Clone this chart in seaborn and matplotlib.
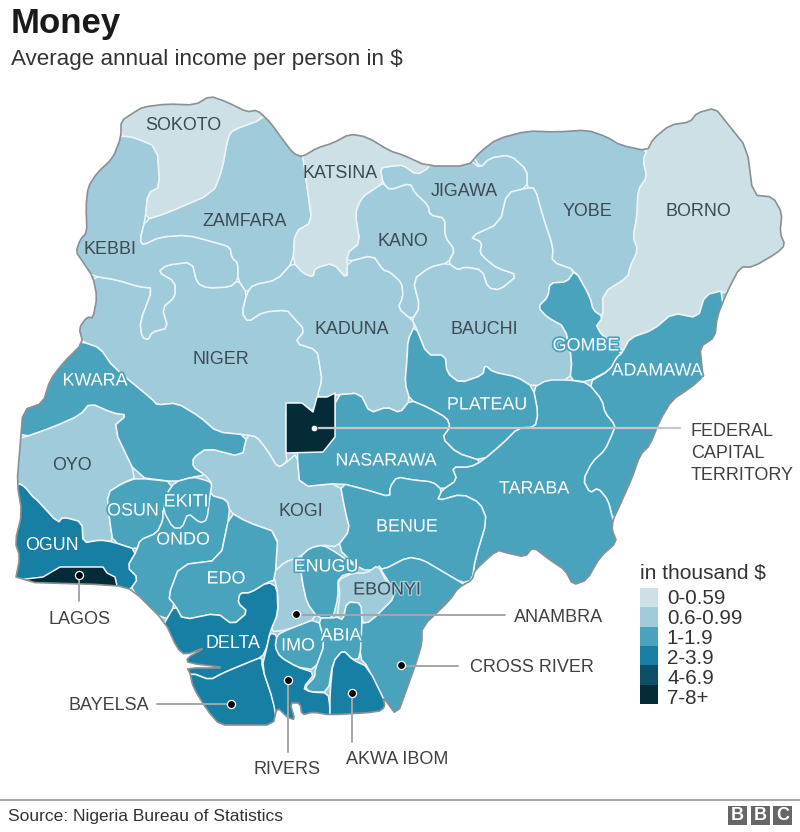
import numpy as np
import pandas as pd
import matplotlib
matplotlib.use("Agg")
import matplotlib.pyplot as plt
import matplotlib.patheffects as pe
from matplotlib.patches import Polygon, Rectangle
import seaborn as sns

sns.set_theme(style="white")
plt.rcParams["font.family"] = ["Liberation Sans", "DejaVu Sans"]

# data
band_labels = ["0-0.59", "0.6-0.99", "1-1.9", "2-3.9", "4-6.9", "7-8+"]
band_colors = ["#cde0e6", "#a0cbdb", "#4aa3bd", "#177fa3", "#0d4f66", "#062b38"]
state_names = ["Niger", "Yobe", "Kebbi", "Zamfara", "Kaduna", "Kano", "Jigawa", "Bauchi", "Oyo", "Kogi", "Anambra",
               "Sokoto", "Katsina", "Borno", "Kwara", "Osun", "Ondo", "Ekiti", "Edo", "Gombe", "Adamawa",
               "Taraba", "Plateau", "Nasarawa", "Benue", "Enugu", "Cross River", "Ebonyi", "Imo", "Abia", "Ogun", "Delta",
               "Bayelsa", "Rivers", "Akwa Ibom", "Lagos", "FCT"]
state_bands = [1, 1, 1, 1, 1, 1, 1, 1, 1, 1, 1,
               0, 0, 0, 2, 2, 2, 2, 2, 2, 2,
               2, 2, 2, 2, 2, 2, 1, 2, 2, 3, 3,
               3, 3, 3, 5, 5]

# map geometry, traced in image pixels
border = [(121,121),(133,113),(143,107),(167,104),(195,105),(210,96),(227,102),(247,112),(257,110),(270,122),
          (283,140),(293,153),(302,157),(317,148),(333,143),(350,134),(367,137),(390,151),(403,155),(427,166),
          (468,166),(480,152),(497,139),(527,131),(557,132),(587,130),(607,137),(620,145),(647,151),(653,139),
          (670,125),(690,122),(697,113),(715,108),(727,123),(747,148),(753,195),(773,197),(782,213),(780,233),
          (785,245),(777,253),(753,267),(740,267),(727,292),(717,317),(715,337),(700,347),(702,367),(703,377),
          (690,388),(672,400),(660,420),(650,445),(640,455),(632,478),(620,505),(613,520),(612,530),(617,542),
          (600,557),(587,580),(573,585),(565,570),(550,560),(533,547),(525,557),(507,553),(497,550),(475,570),
          (472,580),(458,588),(450,600),(422,627),(422,643),(417,660),(410,680),(397,716),(383,697),(385,707),
          (378,712),(330,715),(313,712),(302,715),(300,703),(290,703),(295,720),(287,717),(277,707),(273,725),
          (243,725),(220,725),(207,710),(193,687),(190,673),(187,668),(228,668),(188,663),(187,658),(206,647),
          (185,655),(177,648),(165,622),(133,590),(115,585),(15,582),(20,557),(15,542),(22,513),(17,483),
          (20,447),(23,410),(43,403),(50,380),(63,363),(83,343),(79,328),(87,317),(93,318),(97,297),
          (93,277),(83,262),(76,252),(80,240),(87,232),(86,207),(88,187),(97,173),(113,158),(121,137)]
shapes = {
    "Niger": [(93,276),(117,280),(140,287),(153,288),(140,322),(142,337),(148,340),(152,332),(168,328),(162,308),(175,297),(175,282),(158,272),(167,265),(192,262),(197,283),(207,288),(230,287),(238,280),(247,293),(242,313),(248,322),(263,312),(287,310),(293,317),(305,330),(295,343),(317,350),(320,367),(322,380),(318,397),(313,412),(302,403),(286,403),(286,453),(287,462),(278,468),(267,450),(257,437),(247,435),(217,432),(200,417),(177,403),(157,405),(153,400),(113,367),(100,348),(83,342),(70,330),(80,300)],
    "Yobe": [(470,150),(480,168),(490,158),(510,155),(527,170),(527,188),(535,188),(543,217),(553,247),(552,262),(575,270),(590,297),(593,310),(603,317),(603,293),(628,277),(630,267),(638,250),(633,237),(637,217),(638,190),(647,177),(643,160),(647,151),(620,125),(500,115)],
    "Kebbi": [(121,136),(133,137),(157,147),(160,187),(148,193),(145,220),(140,240),(143,245),(160,237),(187,235),(217,243),(230,247),(232,258),(238,263),(238,280),(230,287),(207,288),(197,283),(192,262),(167,265),(158,272),(175,282),(175,297),(162,308),(168,328),(152,332),(148,340),(142,337),(140,322),(153,288),(140,287),(117,280),(93,276),(60,260),(70,150)],
    "Zamfara": [(263,119),(233,130),(228,137),(222,170),(213,193),(167,213),(145,220),(140,240),(143,245),(160,237),(187,235),(217,243),(230,247),(232,258),(238,263),(238,280),(247,293),(253,285),(277,280),(293,262),(295,232),(312,222),(308,193),(303,157),(300,145),(270,105)],
    "Kaduna": [(247,293),(253,285),(277,280),(293,262),(303,273),(313,277),(315,268),(333,263),(347,279),(347,262),(373,255),(383,270),(390,272),(402,283),(403,297),(398,308),(412,320),(415,325),(408,340),(407,360),(405,383),(410,400),(400,413),(387,407),(370,413),(360,393),(335,395),(327,397),(317,397),(322,380),(320,367),(317,350),(295,343),(305,330),(293,317),(287,310),(263,312),(248,322),(242,313)],
    "Kano": [(347,253),(360,243),(355,213),(362,197),(377,187),(383,183),(390,190),(410,183),(415,193),(428,205),(430,215),(445,218),(445,237),(455,250),(448,263),(430,267),(413,280),(420,307),(412,320),(398,308),(403,297),(402,283),(390,272),(383,270),(373,255),(347,262)],
    "Jigawa": [(383,183),(390,190),(410,183),(415,193),(428,205),(430,215),(445,218),(445,237),(455,250),(448,263),(458,270),(465,267),(482,270),(488,288),(500,290),(518,275),(497,268),(487,260),(480,253),(482,242),(470,237),(500,223),(507,193),(527,188),(527,170),(510,155),(490,158),(480,168),(470,160),(428,160),(417,175),(403,165),(392,166),(380,168)],
    "Bauchi": [(448,263),(458,270),(465,267),(482,270),(488,288),(500,290),(518,275),(497,268),(487,260),(480,253),(482,242),(470,237),(500,223),(507,193),(527,188),(535,188),(543,217),(553,247),(552,262),(575,270),(567,282),(550,283),(548,297),(538,307),(547,317),(565,327),(572,360),(570,380),(533,387),(517,377),(493,372),(485,365),(483,375),(460,383),(447,373),(445,355),(427,355),(415,325),(412,320),(420,307),(413,280),(430,267)],
    "Oyo": [(22,438),(53,427),(80,415),(90,403),(113,413),(127,415),(113,427),(137,477),(123,483),(107,493),(110,523),(113,542),(100,540),(83,543),(82,522),(63,517),(58,523),(37,500),(33,497),(25,487),(18,483),(5,480),(5,440)],
    "Kogi": [(247,435),(257,437),(267,450),(278,468),(287,462),(297,453),(300,487),(340,483),(345,510),(350,530),(337,547),(323,545),(310,548),(300,557),(285,562),(275,572),(278,533),(247,522),(230,512),(227,500),(210,495),(212,483),(205,475),(193,467),(193,458),(207,448),(242,457)],
    "Anambra": [(273,573),(285,562),(300,557),(302,580),(307,603),(318,618),(287,630),(270,632),(278,613),(278,593)],
    "Ebonyi": [(338,580),(353,573),(367,573),(378,565),(387,583),(397,595),(370,622),(362,623),(361,603),(347,602),(343,620),(337,617),(340,595)],
    "Sokoto": [(121,136),(133,137),(157,147),(160,187),(148,193),(145,220),(167,213),(213,193),(222,170),(228,137),(233,130),(263,119),(263,100),(210,85),(110,95)],
    "Katsina": [(303,157),(308,193),(312,222),(295,232),(293,262),(303,273),(313,277),(315,268),(333,263),(347,279),(347,253),(360,243),(355,213),(362,197),(377,187),(383,183),(380,168),(392,166),(403,165),(417,175),(430,167),(430,155),(350,120),(300,145)],
    "Borno": [(647,151),(643,160),(647,177),(638,190),(637,217),(633,237),(638,250),(630,267),(628,277),(603,293),(603,317),(595,328),(622,353),(630,338),(653,330),(673,313),(698,318),(705,295),(727,292),(760,280),(800,220),(730,95),(650,125)],
    "Kwara": [(83,342),(100,348),(113,367),(153,400),(157,405),(177,403),(200,417),(217,432),(247,435),(242,457),(207,448),(193,458),(193,467),(205,475),(193,477),(175,482),(137,477),(113,427),(127,415),(113,413),(90,403),(80,415),(53,427),(22,438),(10,420),(40,380),(60,340)],
    "Osun": [(107,493),(123,483),(137,478),(175,482),(163,510),(163,520),(157,533),(140,540),(137,550),(113,542),(110,523)],
    "Ondo": [(163,520),(157,533),(140,540),(137,550),(127,567),(138,578),(130,590),(165,622),(175,605),(168,597),(180,565),(220,560),(230,512),(227,500),(210,495),(212,483),(175,482),(163,510)],
    "Ekiti": [(175,482),(193,477),(205,480),(212,483),(210,495),(207,520),(200,523),(188,513),(182,528),(173,528),(163,510),(167,493)],
    "Edo": [(175,605),(168,597),(180,565),(220,560),(230,512),(247,522),(278,533),(275,580),(268,582),(250,593),(240,593),(238,603),(248,612),(233,625),(217,613),(183,620)],
    "Gombe": [(575,270),(567,282),(550,283),(548,297),(538,307),(547,317),(565,327),(572,360),(570,380),(587,382),(610,370),(617,357),(622,353),(595,328),(603,317),(593,310),(590,297)],
    "Adamawa": [(588,383),(602,400),(605,413),(615,425),(613,432),(605,450),(592,462),(583,480),(590,493),(598,488),(608,500),(613,520),(650,520),(720,400),(725,290),(705,295),(698,318),(673,313),(653,330),(630,338),(622,353),(617,357),(610,370)],
    "Taraba": [(533,388),(547,380),(570,380),(588,383),(602,400),(605,413),(615,425),(613,432),(605,450),(592,462),(583,480),(590,493),(598,488),(608,500),(613,520),(625,545),(600,600),(470,600),(473,578),(475,560),(487,520),(480,503),(462,494),(437,501),(442,490),(457,480),(452,467),(470,467),(482,461),(503,443),(518,428),(535,427),(538,413)],
    "Plateau": [(415,325),(427,355),(445,355),(447,373),(460,383),(483,375),(485,365),(493,372),(517,377),(533,387),(538,413),(535,427),(518,428),(503,443),(482,461),(457,453),(442,438),(450,427),(447,418),(427,407),(410,400),(405,383),(407,360),(408,340)],
    "Nasarawa": [(300,440),(335,437),(335,395),(360,393),(370,413),(387,407),(400,413),(410,400),(427,407),(447,418),(450,427),(442,438),(457,453),(482,461),(470,467),(452,467),(457,480),(442,490),(433,482),(413,480),(397,477),(390,487),(390,497),(367,490),(340,483),(300,487),(297,453)],
    "Benue": [(340,483),(367,490),(390,497),(390,487),(397,477),(413,480),(433,482),(442,490),(437,501),(462,494),(480,503),(487,520),(475,560),(472,580),(462,583),(440,570),(423,560),(408,557),(383,570),(360,570),(337,547),(350,530),(345,510)],
    "Enugu": [(300,557),(310,548),(323,545),(337,553),(360,570),(338,577),(338,597),(333,618),(318,618),(307,603),(302,580)],
    "Cross River": [(360,658),(360,623),(370,622),(397,595),(378,565),(383,570),(408,557),(423,560),(440,570),(462,583),(472,590),(460,600),(430,720),(397,722),(385,707),(368,667)],
    "Imo": [(277,635),(287,630),(318,618),(325,643),(315,670),(297,667),(280,657),(275,647)],
    "Abia": [(318,618),(333,618),(337,617),(343,620),(347,602),(361,603),(362,623),(360,658),(353,660),(343,650),(333,662),(328,692),(310,692),(305,687),(315,677),(315,670),(325,643)],
    "Ogun": [(18,483),(25,487),(33,497),(37,500),(58,523),(63,517),(82,522),(83,543),(100,540),(113,542),(137,550),(127,567),(138,578),(130,590),(115,592),(5,592),(5,500)],
    "Delta": [(165,622),(175,605),(183,620),(217,613),(233,625),(248,612),(238,603),(240,593),(250,593),(268,582),(277,587),(278,613),(270,632),(267,647),(262,657),(247,663),(223,673),(210,680),(192,673),(170,680),(150,650)],
    "Bayelsa": [(192,673),(210,680),(223,673),(247,663),(262,657),(262,667),(273,700),(278,717),(278,735),(180,735),(170,680)],
    "Rivers": [(270,633),(277,635),(275,647),(280,657),(297,667),(315,673),(303,688),(310,692),(328,693),(330,708),(330,730),(278,730),(273,700),(262,667),(267,647)],
    "Akwa Ibom": [(343,650),(353,660),(368,667),(390,712),(378,722),(330,722),(330,693),(333,662)],
    "Lagos": [(17,580),(43,577),(60,567),(103,567),(107,573),(115,577),(118,590),(10,592)],
    "FCT": [(286,403),(302,403),(313,412),(317,397),(327,397),(335,393),(335,437),(323,452),(286,453)],
}
# these keep hard corners in the original
square_states = ["FCT", "Lagos"]

# text placed on the map: label, x, y, kind (0 dark, 1 white with halo, 2 dark on mid, 3 plain white)
map_labels = [("SOKOTO",183,126,0),("KATSINA",340,174,0),("JIGAWA",464,191,0),("YOBE",587,212,0),("BORNO",698,212,0),
              ("ZAMFARA",245,222,0),("KEBBI",110,250,0),("KANO",403,242,0),("KADUNA",352,330,0),("BAUCHI",484,329,0),
              ("NIGER",221,359,0),("OYO",72,466,0),("KOGI",301,512,0),("EBONYI",387,590,2),
              ("GOMBE",586,346,1),("ADAMAWA",657,371,1),("KWARA",95,381,1),("PLATEAU",487,405,1),("NASARAWA",386,461,1),
              ("TARABA",534,489,1),("OSUN",133,511,1),("EKITI",186,502,1),("ONDO",183,540,1),("BENUE",407,527,1),
              ("OGUN",52,546,3),("EDO",226,579,1),("ENUGU",326,567,1),("DELTA",233,644,3),("IMO",298,646,1),("ABIA",341,636,1)]


def soften(pts):
    # one pass of corner cutting so the traced outlines look less angular
    pts = np.array(pts, dtype=float)
    nxt = np.roll(pts, -1, axis=0)
    return np.column_stack([0.8*pts + 0.2*nxt, 0.2*pts + 0.8*nxt]).reshape(-1, 2)


df = pd.DataFrame({"state": state_names, "band": state_bands})

fig = plt.figure(figsize=(8, 8.32), dpi=100)
ax = fig.add_axes([0, 0, 1, 1])
ax.set_xlim(0, 800)
ax.set_ylim(832, 0)
ax.axis("off")

palette = sns.color_palette(band_colors)
outline = soften(border)
land = Polygon(outline, closed=True, fc=palette[1], ec="none", zorder=1)
ax.add_patch(land)
for row in df.itertuples():
    pts = shapes[row.state] if row.state in square_states else soften(shapes[row.state])
    p = Polygon(pts, closed=True, fc=palette[row.band], ec="#eef5f7", lw=1.1, joinstyle="round", zorder=2)
    ax.add_patch(p)
    p.set_clip_path(land)
ax.add_patch(Polygon(outline, closed=True, fc="none", ec="#8a9093", lw=1.2, joinstyle="round", zorder=3))

# callouts
line_col = "#a2a6a8"
ax.plot([313, 680], [428, 428], color="#c2c7c9", lw=1.6, zorder=4)
ax.plot([79, 79], [575, 601], color=line_col, lw=1.4, zorder=4)
ax.plot([296, 505], [615, 615], color=line_col, lw=1.4, zorder=4)
ax.plot([401, 458], [666, 666], color=line_col, lw=1.4, zorder=4)
ax.plot([157, 231], [704, 704], color=line_col, lw=1.4, zorder=4)
ax.plot([288, 288], [680, 752], color=line_col, lw=1.4, zorder=4)
ax.plot([352, 352], [693, 742], color=line_col, lw=1.4, zorder=4)
ax.scatter([79, 296, 401, 231, 288, 352], [575, 614, 665, 704, 680, 693], s=34, color="black", edgecolor="white", lw=0.9, zorder=5)
ax.scatter([314], [428], s=22, color="white", edgecolor="#062b38", lw=0.5, zorder=5)

for txt, x, y, kind in map_labels:
    col = "white" if kind in (1, 3) else "#3d4a52"
    t = ax.text(x, y, txt, fontsize=12.9, color=col, ha="center", va="center", zorder=6)
    if kind == 1:
        t.set_path_effects([pe.withStroke(linewidth=2.5, foreground=palette[2])])
    if kind == 2:
        t.set_path_effects([pe.withStroke(linewidth=2, foreground=palette[1])])

call_col = "#404040"
ax.text(691, 432, "FEDERAL", fontsize=13, color=call_col, va="center")
ax.text(691, 454, "CAPITAL", fontsize=13, color=call_col, va="center")
ax.text(691, 475, "TERRITORY", fontsize=13, color=call_col, va="center")
ax.text(80, 619, "LAGOS", fontsize=13, color=call_col, ha="center", va="center")
ax.text(514, 617, "ANAMBRA", fontsize=13, color=call_col, va="center")
ax.text(470, 668, "CROSS RIVER", fontsize=13, color=call_col, va="center")
ax.text(68, 706, "BAYELSA", fontsize=13, color=call_col, va="center")
ax.text(287, 769, "RIVERS", fontsize=13, color=call_col, ha="center", va="center")
ax.text(397, 760, "AKWA IBOM", fontsize=13, color=call_col, ha="center", va="center")

# legend
ax.text(640, 573, "in thousand $", fontsize=15, color="#333333", va="center")
leg_ax = fig.add_axes([640/800, 1-704/832, 18/800, 116/832])
sns.heatmap(np.arange(6).reshape(-1, 1), cmap=band_colors, cbar=False, xticklabels=False, yticklabels=False, ax=leg_ax)
for i, lab in enumerate(band_labels):
    ax.text(667, 598 + i*20, lab, fontsize=14.8, color="#333333", va="center")

# title block
ax.text(11, 24, "Money", fontsize=25, fontweight="bold", color="#1a1a1a", va="center")
ax.text(11, 59, "Average annual income per person in $", fontsize=16.1, color="#333333", va="center")

# footer
ax.plot([0, 800], [800, 800], color="#a8a8a8", lw=1.5)
ax.text(8, 817, "Source: Nigeria Bureau of Statistics", fontsize=12.5, color="#333333", va="center")
for x0, letter in zip([728, 751, 773], "BBC"):
    ax.add_patch(Rectangle((x0, 806), 19, 19, fc="#666666", ec="none"))
    ax.text(x0 + 9.5, 816, letter, fontsize=13, fontweight="bold", color="white", ha="center", va="center")

fig.savefig("out.png", dpi=100, facecolor="white")
